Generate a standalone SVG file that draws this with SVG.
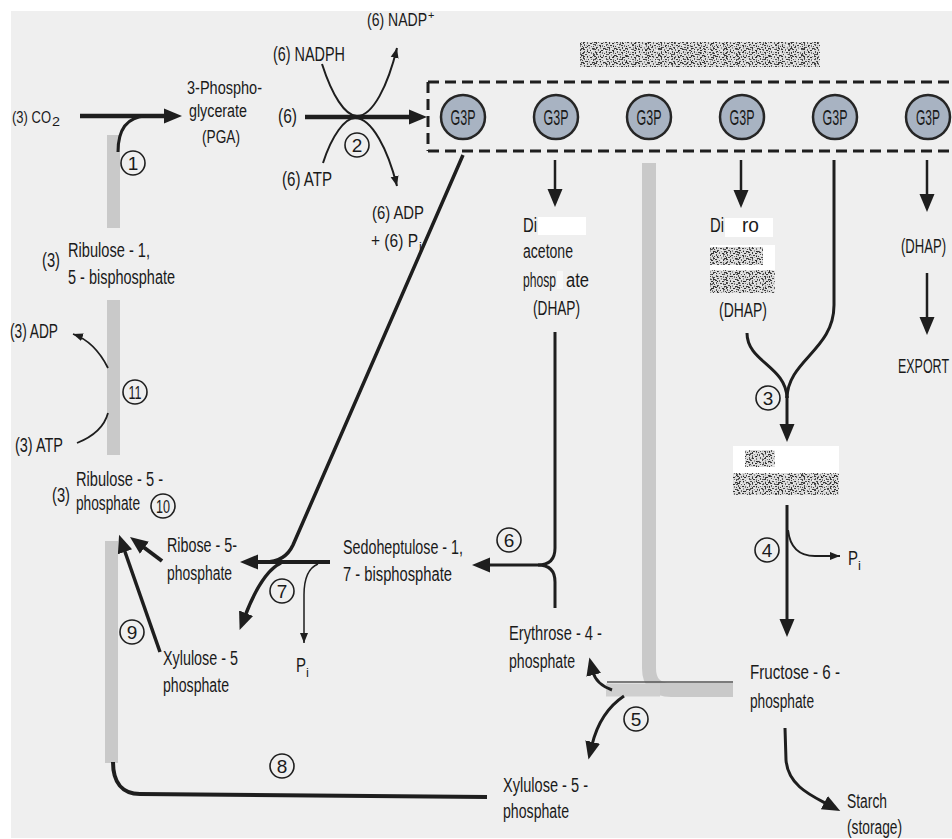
<svg xmlns="http://www.w3.org/2000/svg" width="952" height="839" viewBox="0 0 952 839">
<defs>
<style>
.t{font-family:"Liberation Sans Narrow","Liberation Sans",Arial,sans-serif;font-size:20px;fill:#1a1a1a}
.s{font-size:13px}
.num{font-family:"Liberation Sans Narrow","Liberation Sans",Arial,sans-serif;font-size:19px;fill:#1a1a1a;text-anchor:middle}
.g3p{fill:#a8b3c2;stroke:#262626;stroke-width:2.5}
.g3pt{font-family:"Liberation Sans Narrow","Liberation Sans",Arial,sans-serif;font-size:22px;fill:#1a1a1a}
.c{fill:none;stroke:#1e1e1e;stroke-width:1.6}
.k{fill:none;stroke:#1e1e1e;stroke-linecap:butt}
.bar{fill:#c9c9c9}
.wh{fill:#ffffff}
</style>
<marker id="ab" markerUnits="userSpaceOnUse" markerWidth="22" markerHeight="18" viewBox="0 -9 22 18" refX="3" refY="0" orient="auto"><path d="M0,-7.5 L18,0 L0,7.5 z" fill="#1e1e1e"/></marker>
<marker id="as" markerUnits="userSpaceOnUse" markerWidth="12" markerHeight="10" viewBox="0 -5 12 10" refX="10" refY="0" orient="auto"><path d="M0,-4 L10,0 L0,4 z" fill="#1e1e1e"/></marker>
<pattern id="nz" width="11" height="7" patternUnits="userSpaceOnUse">
<rect width="11" height="7" fill="#dadada"/>
<rect x="0" y="0" width="2" height="1" fill="#3a3a3a"/>
<rect x="4" y="0" width="1" height="2" fill="#666"/>
<rect x="7" y="1" width="2" height="1" fill="#2e2e2e"/>
<rect x="9" y="0" width="1" height="1" fill="#888"/>
<rect x="1" y="2" width="1" height="2" fill="#555"/>
<rect x="5" y="3" width="2" height="1" fill="#3c3c3c"/>
<rect x="8" y="3" width="1" height="2" fill="#777"/>
<rect x="10" y="4" width="1" height="1" fill="#444"/>
<rect x="2" y="5" width="2" height="1" fill="#4a4a4a"/>
<rect x="6" y="5" width="1" height="2" fill="#999"/>
<rect x="0" y="6" width="1" height="1" fill="#666"/>
<rect x="9" y="6" width="2" height="1" fill="#333"/>
<rect x="3" y="3" width="1" height="1" fill="#aaa"/>
</pattern>
<pattern id="nz2" width="13" height="5" patternUnits="userSpaceOnUse">
<rect x="2" y="1" width="1" height="1" fill="#222"/>
<rect x="6" y="0" width="2" height="1" fill="#f0f0f0"/>
<rect x="11" y="2" width="1" height="2" fill="#3a3a3a"/>
<rect x="8" y="4" width="2" height="1" fill="#555"/>
<rect x="0" y="3" width="1" height="1" fill="#f5f5f5"/>
<rect x="4" y="4" width="1" height="1" fill="#e8e8e8"/>
</pattern>
</defs>

<rect x="0" y="0" width="952" height="839" fill="#ffffff"/>
<rect x="11" y="11" width="941" height="827" fill="#efefef"/>

<g id="grey-bars">
<rect class="bar" x="107" y="135" width="13" height="93"/>
<rect class="bar" x="107" y="300" width="13" height="155"/>
<rect class="bar" x="105" y="541" width="13" height="222"/>
<path d="M649,163 L649,668 Q649,690 671,690 L733,690" fill="none" stroke="#c9c9c9" stroke-width="14"/>
<path d="M606,690 L660,690" fill="none" stroke="#cfcfcf" stroke-width="13"/>
</g>

<g id="connectors">
<path class="k" stroke-width="4.5" d="M80,116 L167,116" marker-end="url(#ab)"/>
<path class="k" stroke-width="3" d="M118,152 C118,130 126,117 146,116"/>
<path class="k" stroke-width="4.5" d="M305,117 L412,117" marker-end="url(#ab)"/>
<path class="k" stroke-width="2" d="M322,64 C332,95 345,116 357,116 C373,116 388,85 397,48" marker-end="url(#as)"/>
<path class="k" stroke-width="2" d="M323,163 C332,135 345,118 355,118 C372,118 388,150 397,186" marker-end="url(#as)"/>
<path class="k" stroke-width="2.5" d="M555,160 L555,192" marker-end="url(#ab)"/>
<path class="k" stroke-width="2.5" d="M741,160 L741,193" marker-end="url(#ab)"/>
<path class="k" stroke-width="2.5" d="M927,160 L927,197" marker-end="url(#ab)"/>
<path class="k" stroke-width="2.5" d="M927,273 L927,320" marker-end="url(#ab)"/>
<path class="k" stroke-width="3" d="M834,160 L834,305 C834,350 788,360 787,398"/>
<path class="k" stroke-width="3" d="M747,333 C747,362 786,366 787,398"/>
<path class="k" stroke-width="3" d="M787,396 L787,427" marker-end="url(#ab)"/>
<path class="k" stroke-width="3" d="M787,505 L787,622" marker-end="url(#ab)"/>
<path class="k" stroke-width="2" d="M788,530 C790,548 800,556 815,556 L840,556" marker-end="url(#as)"/>
<path class="k" stroke-width="3" d="M785,728 L786,760 C788,785 810,795 827,804" marker-end="url(#ab)"/>
<path d="M607,682 L733,682" fill="none" stroke="#555" stroke-width="1.5"/>
<path class="k" stroke-width="3" d="M612,690 Q596,684 593,672" marker-end="url(#ab)"/>
<path class="k" stroke-width="3" d="M624,696 Q600,712 592,745" marker-end="url(#ab)"/>
<path class="k" stroke-width="3" d="M555,332 L555,548 Q555,565 538,565 L487,565" marker-end="url(#ab)"/>
<path class="k" stroke-width="3" d="M555,608 L555,582 Q555,565 538,565"/>
<path class="k" stroke-width="3.5" d="M463,155 L293,545 Q285,562 265,562"/>
<path class="k" stroke-width="4" d="M330,562 L255,562" marker-end="url(#ab)"/>
<path class="k" stroke-width="3.5" d="M281,563 C266,570 255,590 245,616" marker-end="url(#ab)"/>
<path class="k" stroke-width="1.5" d="M318,564 C308,568 304,580 304,595 L304,643" marker-end="url(#as)"/>
<path class="k" stroke-width="4" d="M113,762 C113,782 122,794 140,794 L487,797"/>
<path class="k" stroke-width="3.5" d="M160,652 L124,549" marker-end="url(#ab)"/>
<path class="k" stroke-width="4" d="M162,561 L142,546" marker-end="url(#ab)"/>
<path class="k" stroke-width="1.8" d="M108,368 C100,352 90,340 73,334" marker-end="url(#as)"/>
<path class="k" stroke-width="1.8" d="M77,443 C92,437 104,428 108,413"/>
</g>

<g id="g3p-box">
<path d="M428,82 L952,82 M428,151 L952,151 M428,82 L428,151" fill="none" stroke="#1e1e1e" stroke-width="3" stroke-dasharray="11 6"/>
</g>

<g id="g3p-1"><circle class="g3p" cx="463" cy="117" r="22"/><text class="g3pt" x="463" y="125" text-anchor="middle" textLength="25" lengthAdjust="spacingAndGlyphs">G3P</text></g>
<g id="g3p-2"><circle class="g3p" cx="556" cy="117" r="22"/><text class="g3pt" x="556" y="125" text-anchor="middle" textLength="25" lengthAdjust="spacingAndGlyphs">G3P</text></g>
<g id="g3p-3"><circle class="g3p" cx="649" cy="117" r="22"/><text class="g3pt" x="649" y="125" text-anchor="middle" textLength="25" lengthAdjust="spacingAndGlyphs">G3P</text></g>
<g id="g3p-4"><circle class="g3p" cx="742" cy="117" r="22"/><text class="g3pt" x="742" y="125" text-anchor="middle" textLength="25" lengthAdjust="spacingAndGlyphs">G3P</text></g>
<g id="g3p-5"><circle class="g3p" cx="835" cy="117" r="22"/><text class="g3pt" x="835" y="125" text-anchor="middle" textLength="25" lengthAdjust="spacingAndGlyphs">G3P</text></g>
<g id="g3p-6"><circle class="g3p" cx="928" cy="117" r="22"/><text class="g3pt" x="928" y="125" text-anchor="middle" textLength="24" lengthAdjust="spacingAndGlyphs">G3P</text></g>

<g id="g3p-title">
<rect x="580" y="42" width="240" height="25" fill="url(#nz)"/>
<rect x="580" y="42" width="240" height="25" fill="url(#nz2)"/>
</g>

<g id="co2"><text class="t" x="12" y="123" style="font-size:17px" textLength="39" lengthAdjust="spacingAndGlyphs">(3) CO</text><text class="t s" x="52" y="126" textLength="8" lengthAdjust="spacingAndGlyphs">2</text></g>
<g id="pga">
<text class="t" x="187" y="94" style="font-size:18px" textLength="75" lengthAdjust="spacingAndGlyphs">3-Phospho-</text>
<text class="t" x="189" y="117" style="font-size:18px" textLength="58" lengthAdjust="spacingAndGlyphs">glycerate</text>
<text class="t" x="202" y="143" style="font-size:18px" textLength="38" lengthAdjust="spacingAndGlyphs">(PGA)</text>
</g>
<g id="nadph"><text class="t" x="273" y="61" textLength="72" lengthAdjust="spacingAndGlyphs">(6) NADPH</text></g>
<g id="nadp"><text class="t" x="367" y="26" style="font-size:18px" textLength="60" lengthAdjust="spacingAndGlyphs">(6) NADP</text><text class="t" x="428" y="19" style="font-size:11px">+</text></g>
<g id="six"><text class="t" x="278" y="123" textLength="19" lengthAdjust="spacingAndGlyphs">(6)</text></g>
<g id="atp6"><text class="t" x="282" y="186" textLength="50" lengthAdjust="spacingAndGlyphs">(6) ATP</text></g>
<g id="adp6"><text class="t" x="372" y="219" style="font-size:18px" textLength="52" lengthAdjust="spacingAndGlyphs">(6) ADP</text></g>
<g id="pi6"><text class="t" x="371" y="247" style="font-size:18px" textLength="47" lengthAdjust="spacingAndGlyphs">+ (6) P</text><text class="t s" x="419" y="251">i</text></g>

<g id="dhap-1">
<text class="t" x="523" y="232" textLength="14" lengthAdjust="spacingAndGlyphs">Di</text>
<rect class="wh" x="538" y="217" width="48" height="18"/>
<text class="t" x="523" y="258" textLength="50" lengthAdjust="spacingAndGlyphs">acetone</text>
<text class="t" x="523" y="287" textLength="33" lengthAdjust="spacingAndGlyphs">phosp</text>
<rect x="557" y="271" width="6" height="18" fill="#f8f8f8"/>
<text class="t" x="566" y="287" textLength="23" lengthAdjust="spacingAndGlyphs">ate</text>
<text class="t" x="533" y="315" textLength="47" lengthAdjust="spacingAndGlyphs">(DHAP)</text>
</g>

<g id="dhap-2">
<text class="t" x="710" y="232" textLength="14" lengthAdjust="spacingAndGlyphs">Di</text>
<rect class="wh" x="725" y="218" width="48" height="19"/>
<text class="t" x="742" y="232" textLength="17" lengthAdjust="spacingAndGlyphs">ro</text>
<rect class="wh" x="710" y="245" width="65" height="48"/>
<rect x="710" y="247" width="53" height="18" fill="url(#nz)"/>
<rect x="710" y="247" width="53" height="18" fill="url(#nz2)"/>
<rect x="710" y="270" width="65" height="23" fill="url(#nz)"/>
<rect x="710" y="270" width="65" height="23" fill="url(#nz2)"/>
<text class="t" x="719" y="317" textLength="48" lengthAdjust="spacingAndGlyphs">(DHAP)</text>
</g>

<g id="dhap-3"><text class="t" x="901" y="253" textLength="45" lengthAdjust="spacingAndGlyphs">(DHAP)</text></g>
<g id="export"><text class="t" x="898" y="373" textLength="51" lengthAdjust="spacingAndGlyphs">EXPORT</text></g>

<g id="fbp">
<rect class="wh" x="733" y="446" width="106" height="49"/>
<rect x="745" y="450" width="30" height="17" fill="url(#nz)"/>
<rect x="745" y="450" width="30" height="17" fill="url(#nz2)"/>
<rect x="733" y="473" width="106" height="22" fill="url(#nz)"/>
<rect x="733" y="473" width="106" height="22" fill="url(#nz2)"/>
</g>

<g id="pi-4"><text class="t" x="848" y="565" textLength="10" lengthAdjust="spacingAndGlyphs">P</text><text class="t s" x="858" y="570">i</text></g>
<g id="f6p">
<text class="t" x="750" y="679" textLength="90" lengthAdjust="spacingAndGlyphs">Fructose - 6 -</text>
<text class="t" x="750" y="708" textLength="64" lengthAdjust="spacingAndGlyphs">phosphate</text>
</g>
<g id="starch">
<text class="t" x="847" y="808" textLength="40" lengthAdjust="spacingAndGlyphs">Starch</text>
<text class="t" x="847" y="834" textLength="55" lengthAdjust="spacingAndGlyphs">(storage)</text>
</g>
<g id="e4p">
<text class="t" x="509" y="640" textLength="93" lengthAdjust="spacingAndGlyphs">Erythrose - 4 -</text>
<text class="t" x="509" y="668" textLength="66" lengthAdjust="spacingAndGlyphs">phosphate</text>
</g>
<g id="xu5p-2">
<text class="t" x="503" y="792" textLength="85" lengthAdjust="spacingAndGlyphs">Xylulose - 5 -</text>
<text class="t" x="503" y="818" textLength="66" lengthAdjust="spacingAndGlyphs">phosphate</text>
</g>
<g id="s17bp">
<text class="t" x="343" y="554" textLength="120" lengthAdjust="spacingAndGlyphs">Sedoheptulose - 1,</text>
<text class="t" x="343" y="581" textLength="109" lengthAdjust="spacingAndGlyphs">7 - bisphosphate</text>
</g>
<g id="r5p">
<text class="t" x="167" y="552" textLength="70" lengthAdjust="spacingAndGlyphs">Ribose - 5-</text>
<text class="t" x="167" y="580" textLength="65" lengthAdjust="spacingAndGlyphs">phosphate</text>
</g>
<g id="xu5p-1">
<text class="t" x="163" y="665" textLength="75" lengthAdjust="spacingAndGlyphs">Xylulose - 5</text>
<text class="t" x="163" y="692" textLength="66" lengthAdjust="spacingAndGlyphs">phosphate</text>
</g>
<g id="pi-7"><text class="t" x="296" y="672" textLength="10" lengthAdjust="spacingAndGlyphs">P</text><text class="t s" x="306" y="677">i</text></g>
<g id="rubp">
<text class="t" x="42" y="267" textLength="18" lengthAdjust="spacingAndGlyphs">(3)</text>
<text class="t" x="68" y="257" textLength="82" lengthAdjust="spacingAndGlyphs">Ribulose - 1,</text>
<text class="t" x="68" y="284" textLength="107" lengthAdjust="spacingAndGlyphs">5 - bisphosphate</text>
</g>
<g id="adp3"><text class="t" x="10" y="338" textLength="48" lengthAdjust="spacingAndGlyphs">(3) ADP</text></g>
<g id="atp3"><text class="t" x="15" y="452" textLength="48" lengthAdjust="spacingAndGlyphs">(3) ATP</text></g>
<g id="ru5p">
<text class="t" x="52" y="502" textLength="18" lengthAdjust="spacingAndGlyphs">(3)</text>
<text class="t" x="76" y="486" textLength="87" lengthAdjust="spacingAndGlyphs">Ribulose - 5 -</text>
<text class="t" x="76" y="510" textLength="64" lengthAdjust="spacingAndGlyphs">phosphate</text>
</g>

<g id="steps">
<g id="step-1"><circle class="c" cx="133" cy="163" r="12"/><text class="num" x="133" y="170">1</text></g>
<g id="step-2"><circle class="c" cx="357" cy="145" r="12"/><text class="num" x="357" y="152">2</text></g>
<g id="step-3"><circle class="c" cx="768" cy="398" r="12"/><text class="num" x="768" y="405">3</text></g>
<g id="step-4"><circle class="c" cx="767" cy="550" r="12"/><text class="num" x="767" y="557">4</text></g>
<g id="step-5"><circle class="c" cx="636" cy="719" r="12"/><text class="num" x="636" y="726">5</text></g>
<g id="step-6"><circle class="c" cx="509" cy="540" r="12"/><text class="num" x="509" y="547">6</text></g>
<g id="step-7"><circle class="c" cx="282" cy="591" r="12"/><text class="num" x="282" y="598">7</text></g>
<g id="step-8"><circle class="c" cx="282" cy="766" r="12"/><text class="num" x="282" y="773">8</text></g>
<g id="step-9"><circle class="c" cx="132" cy="632" r="12"/><text class="num" x="132" y="639">9</text></g>
<g id="step-10"><circle class="c" cx="163" cy="506" r="12"/><text class="num" x="163" y="513" textLength="14" lengthAdjust="spacingAndGlyphs">10</text></g>
<g id="step-11"><circle class="c" cx="135" cy="392" r="12"/><text class="num" x="135" y="399" textLength="13" lengthAdjust="spacingAndGlyphs">11</text></g>
</g>
</svg>
